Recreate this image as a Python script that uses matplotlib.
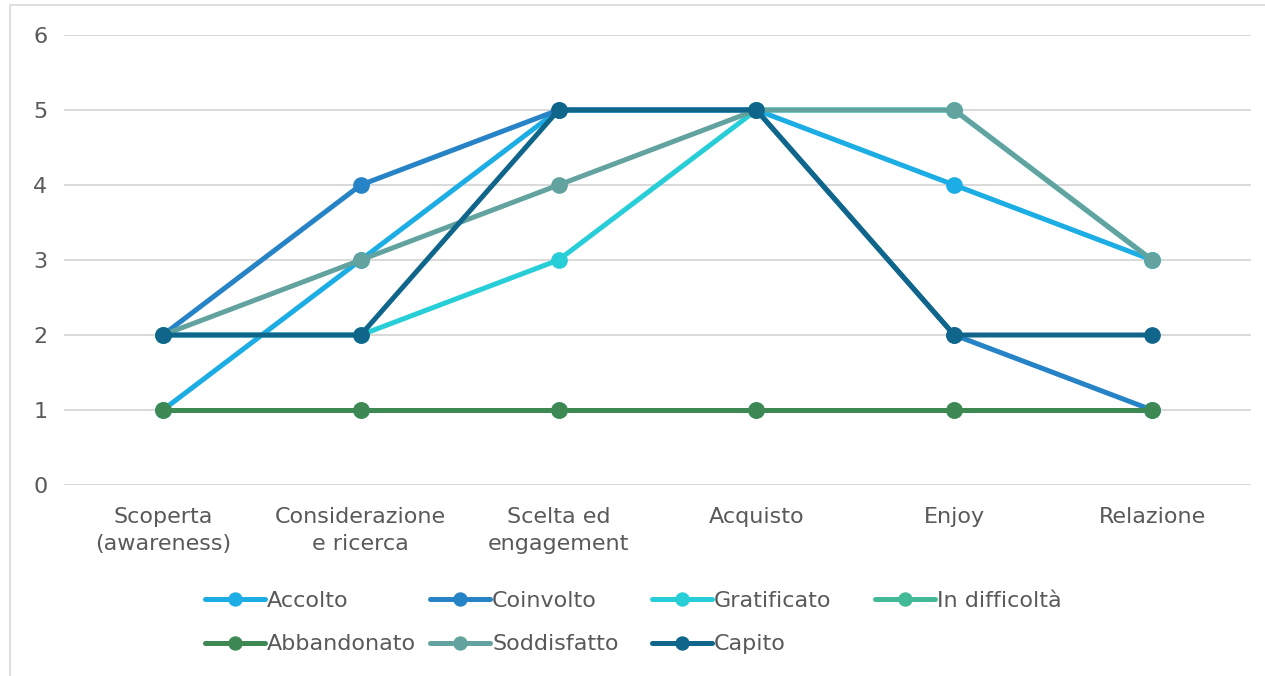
import matplotlib
matplotlib.use("Agg")
import matplotlib.pyplot as plt
from matplotlib.patches import Rectangle

# Customer-journey phases and sentiment scores per persona
phases = ["Scoperta\n(awareness)", "Considerazione\ne ricerca", "Scelta ed\nengagement",
          "Acquisto", "Enjoy", "Relazione"]

accolto = [1, 3, 5, 5, 4, 3]
coinvolto = [2, 4, 5, 5, 2, 1]
gratificato = [2, 2, 3, 5, 5, 3]
in_difficolta = [1, 1, 1, 1, 1, 1]
abbandonato = [1, 1, 1, 1, 1, 1]
soddisfatto = [2, 3, 4, 5, 5, 3]
capito = [2, 2, 5, 5, 2, 2]

series = [
    ("Accolto", accolto, "#1CADE4"),
    ("Coinvolto", coinvolto, "#2683C6"),
    ("Gratificato", gratificato, "#27CED7"),
    ("In difficoltà", in_difficolta, "#42BA97"),
    ("Abbandonato", abbandonato, "#3E8853"),
    ("Soddisfatto", soddisfatto, "#62A39F"),
    ("Capito", capito, "#10668A"),
]

plt.rcParams["font.family"] = ["DejaVu Sans"]
text_color = "#595959"
fs = 16

W, H = 1265, 676
fig = plt.figure(figsize=(W / 100, H / 100), dpi=100)
ax = fig.add_axes([64 / W, 191 / H, 1187 / W, 450 / H])

x = list(range(len(phases)))
handles = {}
for name, vals, color in series:
    (ln,) = ax.plot(x, vals, color=color, lw=3.6, marker="o", markersize=11,
                    solid_capstyle="round", label=name, zorder=3)
    handles[name] = ln

ax.set_xlim(-0.5, len(phases) - 0.5)
ax.set_ylim(0, 6)
ax.set_yticks(range(0, 7))
ax.yaxis.grid(True, color="#D9D9D9", lw=1.4)
ax.set_axisbelow(True)
for s in ax.spines.values():
    s.set_visible(False)
ax.tick_params(axis="both", length=0, labelsize=fs, colors=text_color)
ax.tick_params(axis="y", pad=12)
ax.tick_params(axis="x", pad=16)
ax.set_xticks(x)
ax.set_xticklabels(phases, linespacing=1.45)

# Legend: two rows on a grid of equal-width columns
legend_cols = [["Accolto", "Abbandonato"], ["Coinvolto", "Soddisfatto"],
               ["Gratificato", "Capito"], ["In difficoltà"]]
col_left = [205, 430, 652, 875]
for names, xl in zip(legend_cols, col_left):
    leg = fig.legend([handles[n] for n in names], names, ncol=1,
                     loc="upper left", bbox_to_anchor=(xl / W, 1 - 591 / H),
                     frameon=False, fontsize=fs, handlelength=2.7, handletextpad=0.1,
                     borderpad=0, borderaxespad=0, labelspacing=1.05,
                     markerscale=0.85)
    for t in leg.get_texts():
        t.set_color(text_color)

# Chart area border
fig.patches.append(Rectangle((10 / W, -0.01), 1.0, 1 - 5 / H + 0.01,
                             transform=fig.transFigure, fill=False,
                             edgecolor="#D9D9D9", lw=1.2))

fig.savefig("out.png", dpi=100)
